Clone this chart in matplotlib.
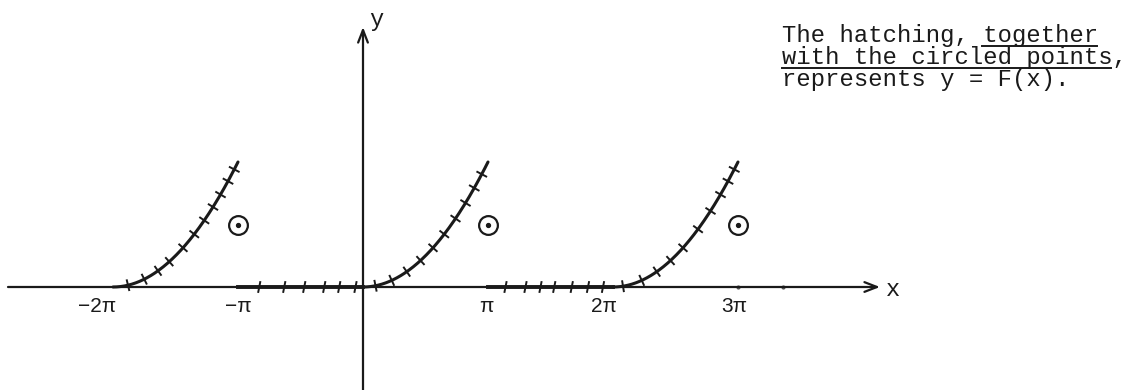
import numpy as np
import matplotlib
matplotlib.use('Agg')
from matplotlib import pyplot as plt

# everything is in units of pi on both axes
# rising pieces: F(x) = (x - a)^2 on (a, a+1), a = start of the piece
curve_starts = [-2, 0, 2]
# zero pieces of F, lying on the x axis
flat_starts = [-1, 1]
# circled points at the jumps, value halfway up
circle_x = [-1, 1, 3]
circle_y = 0.5

# hatch marks along each piece, as a fraction of the piece
curve_hatch = [
    [0.12, 0.25, 0.36, 0.45, 0.56, 0.65, 0.73, 0.80, 0.86, 0.92, 0.97],
    [0.10, 0.23, 0.35, 0.46, 0.56, 0.65, 0.74, 0.82, 0.89, 0.95],
    [0.08, 0.23, 0.35, 0.46, 0.56, 0.68, 0.78, 0.86, 0.92, 0.97],
]
flat_hatch = [
    [0.17, 0.37, 0.53, 0.69, 0.81, 0.94],
    [0.14, 0.30, 0.42, 0.53, 0.67, 0.80, 0.92],
]

tick_pos = [-2.13, -1.0, 0.99, 1.93, 2.97]
tick_text = ['\u22122\u03c0', '\u2212\u03c0', '\u03c0', '2\u03c0', '3\u03c0']

note_lines = ['The hatching, together',
              'with the circled points,',
              'represents y = F(x).']

W, H = 1135, 390
S = 125.0          # pixels per pi
X0, Y0 = 363, 287  # origin in pixels
INK = '#1a1a1a'

fig = plt.figure(figsize=(W / 100, H / 100), dpi=100)
ax = fig.add_axes([0, 0, 1, 1])
ax.set_xlim(-X0 / S, (W - X0) / S)
ax.set_ylim(-(H - Y0) / S, Y0 / S)
ax.axis('off')

#axes with arrow heads
arrow = dict(arrowstyle='->,head_length=0.9,head_width=0.35', lw=1.6, color=INK,
             shrinkA=0, shrinkB=0)
ax.annotate('', xy=((880 - X0) / S, 0), xytext=((8 - X0) / S, 0), arrowprops=arrow)
ax.annotate('', xy=(0, (Y0 - 27) / S), xytext=(0, -(H - Y0) / S), arrowprops=arrow)
ax.text((893 - X0) / S, -0.02, 'x', ha='center', va='center',
        family='Liberation Mono', fontsize=17, color=INK)
ax.text((376 - X0) / S, (Y0 - 20) / S, 'y', ha='center', va='center',
        family='Liberation Mono', fontsize=17, color=INK)

# tiny marks on the x axis
ax.plot([3, 3.36], [0, 0], 'o', ms=2, color='#555555')

hl = 5.0 / S  # half length of a hatch mark

#rising pieces
for a, fr in zip(curve_starts, curve_hatch):
    u = np.linspace(a, a + 1, 200)
    ax.plot(u, (u - a) ** 2, color=INK, lw=2.2, solid_capstyle='round')
    for f in fr:
        p = a + f
        q = f ** 2
        n = np.array([-2 * f, 1.0])
        n = n / np.hypot(*n)
        ax.plot([p - hl * n[0], p + hl * n[0]], [q - hl * n[1], q + hl * n[1]],
                color=INK, lw=1.4)

#zero pieces
for a, fr in zip(flat_starts, flat_hatch):
    ax.plot([a, a + 1], [0, 0], color=INK, lw=2.8)
    n = np.array([0.2, 1.0])
    n = n / np.hypot(*n)
    for f in fr:
        p = a + f
        ax.plot([p - hl * n[0], p + hl * n[0]], [-hl * n[1], hl * n[1]],
                color=INK, lw=1.4)

#circled points
ax.plot(circle_x, [circle_y] * len(circle_x), 'o', ms=13.5, mfc='none',
        mec=INK, mew=1.6)
ax.plot(circle_x, [circle_y] * len(circle_x), 'o', ms=2.8, color=INK)

#labels on the x axis
for p, t in zip(tick_pos, tick_text):
    ax.text(p, -20 / S, t, ha='center', va='center', family='Liberation Sans',
            fontsize=15, color=INK)

#note in the corner
tx = 782
adv = 14.3
base = [42, 64, 86]
for line, b in zip(note_lines, base):
    fig.text(tx / W, 1 - b / H, line, ha='left', va='baseline',
             family='Liberation Mono', fontsize=17.2, color=INK)

# underline "together" and the whole second line
for c0, c1, b in [(14, 22, 46), (0, 23, 68)]:
    fig.add_artist(plt.Line2D([(tx + c0 * adv) / W, (tx + c1 * adv) / W],
                              [1 - b / H, 1 - b / H], color=INK, lw=1.4))

fig.savefig('out.png', dpi=100)
